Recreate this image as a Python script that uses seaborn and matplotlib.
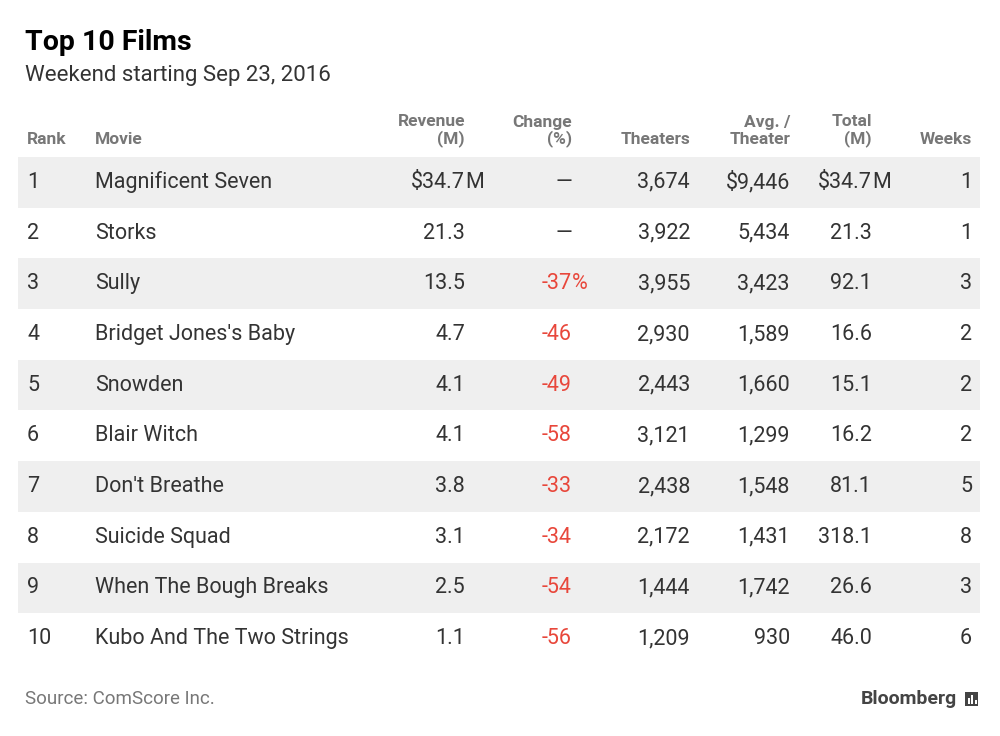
"""Top 10 films box office table, drawn as a seaborn/matplotlib figure."""

import matplotlib
matplotlib.use("Agg")
import matplotlib.pyplot as plt
from matplotlib.patches import Rectangle
import seaborn as sns

sns.set_theme(style="white", font="Roboto")

ranks = [1, 2, 3, 4, 5, 6, 7, 8, 9, 10]
movies = ["Magnificent Seven", "Storks", "Sully", "Bridget Jones's Baby",
          "Snowden", "Blair Witch", "Don't Breathe", "Suicide Squad",
          "When The Bough Breaks", "Kubo And The Two Strings"]
revenue = ["$34.7", "21.3", "13.5", "4.7", "4.1", "4.1", "3.8", "3.1", "2.5", "1.1"]
change = ["—", "—", "-37", "-46", "-49", "-58", "-33", "-34", "-54", "-56"]
theaters = ["3,674", "3,922", "3,955", "2,930", "2,443", "3,121", "2,438",
            "2,172", "1,444", "1,209"]
avg_theater = ["$9,446", "5,434", "3,423", "1,589", "1,660", "1,299", "1,548",
               "1,431", "1,742", "930"]
total = ["$34.7", "21.3", "92.1", "16.6", "15.1", "16.2", "81.1", "318.1",
         "26.6", "46.0"]
weeks = ["1", "1", "3", "2", "2", "2", "5", "8", "3", "6"]

TEXT = "#333333"
GRAY = "#777777"
RED = "#e8473b"
BAND = "#efefef"
W, H = 1000, 736
FS = 15.5

fig = plt.figure(figsize=(10, 7.36), dpi=100)
bg = fig.add_axes([0, 0, 1, 1])
bg.set(xlim=(0, W), ylim=(H, 0))
bg.axis("off")

bg.text(25, 43, "Top 10 Films", fontsize=20.5, fontweight="bold", color="black", va="center")
bg.text(25, 76, "Weekend starting Sep 23, 2016", fontsize=16, color=TEXT, va="center")

# headers
hdr = dict(fontsize=12.5, fontweight="bold", color=GRAY, va="center")
bg.text(27, 139, "Rank", ha="left", **hdr)
bg.text(95, 139, "Movie", ha="left", **hdr)
for x, lines in [(465, ("Revenue", "(M)")), (572, ("Change", "(%)")),
                 (790, ("Avg. /", "Theater")), (872, ("Total", "(M)"))]:
    bg.text(x, 122, lines[0], ha="right", **hdr)
    bg.text(x, 139, lines[1], ha="right", **hdr)
bg.text(690, 139, "Theaters", ha="right", **hdr)
bg.text(972, 139, "Weeks", ha="right", **hdr)

# table body
top, bottom = 157, 664
ax = fig.add_axes([0, 1 - bottom / H, 1, (bottom - top) / H])
ax.set(xlim=(0, W), ylim=(10.5, 0.5))
ax.axis("off")
odd = [r for r in ranks if r % 2 == 1]
ax.barh(odd, [962] * len(odd), left=18, height=1.0, color=BAND, linewidth=0)

body = dict(fontsize=FS, color=TEXT, va="center")
for i, r in enumerate(ranks):
    ax.text(27, r, str(r), ha="left", **body)
    ax.text(95, r, movies[i], ha="left", **body)
    ax.text(465, r, revenue[i], ha="right", **body)
    if i == 0:
        ax.text(465, r, "M", ha="left", **body)
    is_num = change[i] != "—"
    ax.text(572, r, change[i], ha="right", fontsize=FS,
            color=RED if is_num else TEXT, va="center")
    if i == 2:
        ax.text(572, r, "%", ha="left", fontsize=FS, color=RED, va="center")
    ax.text(690, r, theaters[i], ha="right", **body)
    ax.text(790, r, avg_theater[i], ha="right", **body)
    ax.text(872, r, total[i], ha="right", **body)
    if i == 0:
        ax.text(872, r, "M", ha="left", **body)
    ax.text(972, r, weeks[i], ha="right", **body)

bg.text(25, 699, "Source: ComScore Inc.", fontsize=13.5, color=GRAY, va="center")
bg.text(957, 699, "Bloomberg", fontsize=14, fontweight="bold", color="#444444",
        va="center", ha="right")
# small logo mark
bg.add_patch(Rectangle((965, 692), 13, 14, color="#444444", linewidth=0))
for bx, bh in [(967.5, 6), (971, 9), (974.5, 4)]:
    bg.add_patch(Rectangle((bx, 704 - bh), 2, bh, color="white", linewidth=0))

fig.savefig("out.png", dpi=100)
